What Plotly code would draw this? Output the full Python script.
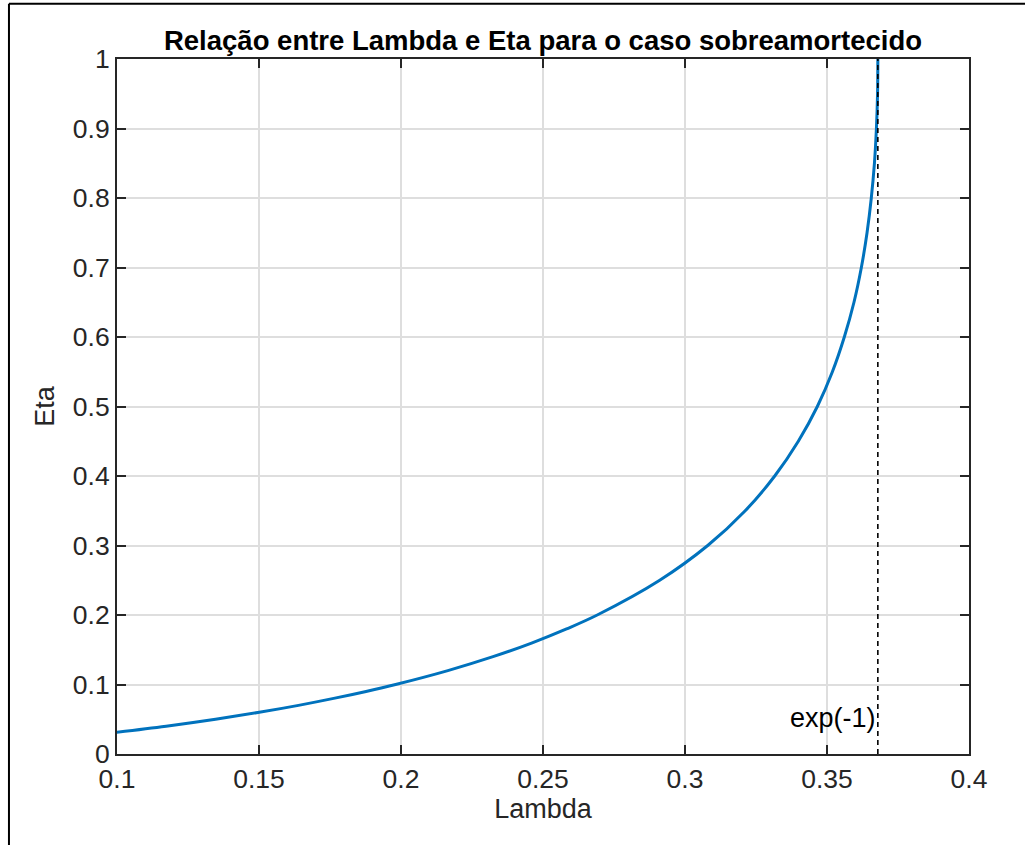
import plotly.graph_objects as go

# Data (Lambda on x, Eta on y)
eta = [0.030, 0.040, 0.050, 0.060, 0.070, 0.080, 0.090, 0.100, 0.120, 0.140,
       0.160, 0.180, 0.200, 0.250, 0.300, 0.350, 0.400, 0.450, 0.500, 0.550,
       0.600, 0.650, 0.700, 0.750, 0.800, 0.850, 0.900, 0.950, 1.000]
lam = [0.0973, 0.1173, 0.1347, 0.1501, 0.1639, 0.1763, 0.1877, 0.1981, 0.2165, 0.2324,
       0.2462, 0.2583, 0.2691, 0.2911, 0.3080, 0.3212, 0.3316, 0.3399, 0.3466, 0.3519,
       0.3561, 0.3595, 0.3621, 0.3641, 0.3656, 0.3667, 0.3674, 0.3678, 0.3679]
vline_x = 0.3679
vline_label = "exp(-1)"
x_ticks = [0.1, 0.15, 0.2, 0.25, 0.3, 0.35, 0.4]
x_ticklabels = ["0.1", "0.15", "0.2", "0.25", "0.3", "0.35", "0.4"]
y_ticks = [0, 0.1, 0.2, 0.3, 0.4, 0.5, 0.6, 0.7, 0.8, 0.9, 1]
y_ticklabels = ["0", "0.1", "0.2", "0.3", "0.4", "0.5", "0.6", "0.7", "0.8", "0.9", "1"]

FONT = "Liberation Sans, Arial, sans-serif"
AX = "#262626"

fig = go.Figure()
fig.add_trace(go.Scatter(x=lam, y=eta, mode="lines", line=dict(color="#0072BD", width=3, shape="spline"),
                         showlegend=False, hoverinfo="skip"))
fig.add_trace(go.Scatter(x=[vline_x, vline_x], y=[0, 1], mode="lines",
                         line=dict(color="black", width=1.6, dash="5px,4px"),
                         showlegend=False, hoverinfo="skip"))

axis_common = dict(showline=True, linecolor=AX, linewidth=2, mirror="ticks",
                   ticks="inside", ticklen=9, tickwidth=2, tickcolor=AX,
                   showgrid=True, gridcolor="#dedede", gridwidth=1.5, zeroline=False,
                   tickfont=dict(family=FONT, size=26.5, color=AX))

fig.update_xaxes(range=[0.1, 0.4], tickvals=x_ticks, ticktext=x_ticklabels, ticklabelstandoff=0,
                 title=dict(text="Lambda", font=dict(family=FONT, size=27, color=AX), standoff=6),
                 **axis_common)
fig.update_yaxes(range=[0, 1], tickvals=y_ticks, ticktext=y_ticklabels,
                 title=dict(text="Eta", font=dict(family=FONT, size=27, color=AX), standoff=10),
                 **axis_common)

fig.add_annotation(x=vline_x, y=0.052, xref="x", yref="y", text=vline_label, showarrow=False,
                   xanchor="right", yanchor="middle", xshift=0,
                   font=dict(family=FONT, size=27, color="black"))

# outer frame lines (left and top)
fig.add_shape(type="line", xref="paper", yref="paper", x0=-0.1268, x1=1.2, y0=1.0796, y1=1.0796,
              line=dict(color="black", width=2))
fig.add_shape(type="line", xref="paper", yref="paper", x0=-0.1268, x1=-0.1268, y0=-0.2, y1=1.0796,
              line=dict(color="black", width=2))

fig.update_layout(
    width=1025, height=845,
    margin=dict(l=117, r=56, t=59, b=91),
    paper_bgcolor="white", plot_bgcolor="white",
    title=dict(text="<b>Relação entre Lambda e Eta para o caso sobreamortecido</b>",
               x=0.5, xref="paper", xanchor="center", y=1, yref="paper", yanchor="bottom",
               pad=dict(b=9), font=dict(family=FONT, size=27.5, color="black")),
)

fig.write_html("out.html")
